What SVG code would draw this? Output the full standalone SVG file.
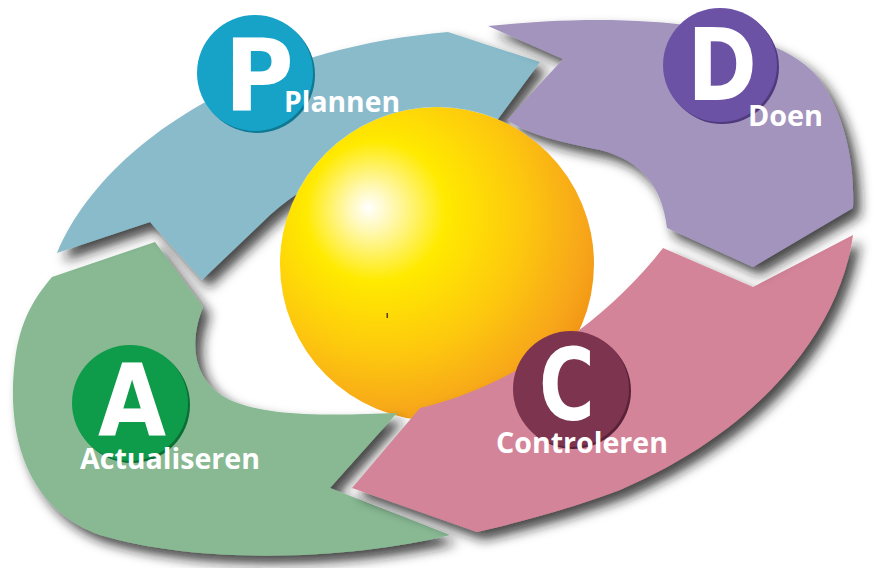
<svg xmlns="http://www.w3.org/2000/svg" width="875" height="568" viewBox="0 0 875 568">
<style>
.band{filter:url(#sh);}
.lbl{font-family:"Open Sans","Liberation Sans",sans-serif;font-weight:bold;font-size:28px;fill:#ffffff;}
.big{font-family:"DejaVu Sans","Liberation Sans",sans-serif;font-weight:bold;font-size:100px;fill:#ffffff;text-anchor:middle;}
</style>
<defs>
<filter id="sh" x="-20%" y="-20%" width="140%" height="140%">
<feDropShadow dx="7" dy="8" stdDeviation="6" flood-color="#1e1e1e" flood-opacity="0.8"/>
</filter>
<filter id="csh" x="-20%" y="-20%" width="140%" height="140%">
<feDropShadow dx="2" dy="2" stdDeviation="1.2" flood-color="#000" flood-opacity="0.45"/>
</filter>
<mask id="noSphere" maskUnits="userSpaceOnUse" x="0" y="0" width="875" height="568">
<rect x="0" y="0" width="875" height="568" fill="#fff"/>
<circle cx="437" cy="264" r="157" fill="#000"/>
</mask>
<radialGradient id="sun" cx="0.36" cy="0.36" r="0.74" fx="0.28" fy="0.32">
<stop offset="0" stop-color="#ffffff"/>
<stop offset="0.1" stop-color="#fff8b0"/>
<stop offset="0.3" stop-color="#ffea00"/>
<stop offset="0.6" stop-color="#fdc80e"/>
<stop offset="0.85" stop-color="#f7a51a"/>
<stop offset="1" stop-color="#f08c10"/>
</radialGradient>
</defs>
<rect x="0" y="0" width="875" height="568" fill="#ffffff"/>

<g id="sphere">
<circle cx="437" cy="264" r="157" fill="url(#sun)"/>
<rect x="386.5" y="313" width="1.5" height="5" fill="#5a3a10"/>
</g>

<g id="connectors"/>

<g id="node-act">
<path class="band" fill="#88b993" d="M52,277 L155,242 L203,307 C190,340 190,380 230,400 C270,418 340,415 397,413 L330,488 L450,535 C350,560 200,565 100,535 C30,510 5,440 15,360 C20,320 35,297 52,277 Z"/>
<circle cx="132" cy="405" r="58" fill="#0b6e35"/>
<circle cx="130" cy="403" r="58" fill="#0e9b4a"/>
<text class="big" transform="translate(132,435) scale(0.88,1)" x="0" y="0">A</text>
<text class="lbl" x="80" y="469" textLength="180" lengthAdjust="spacingAndGlyphs">Actualiseren</text>
</g>

<g id="node-check">
<path class="band" fill="#d48499" d="M663,248 L753,287 L853,235 C840,330 760,430 620,490 C580,505 530,520 477,532 L352,488 L420,408 C500,390 600,330 663,248 Z"/>
<circle cx="573" cy="391" r="58" fill="#5a2238"/>
<circle cx="571" cy="389" r="58" fill="#7d344f"/>
<text class="big" transform="translate(567,420) scale(0.76,1)" x="0" y="0">C</text>
<text class="lbl" x="496" y="453" textLength="172" lengthAdjust="spacingAndGlyphs">Controleren</text>
</g>

<g id="node-plan">
<path class="band" fill="#89bbcb" mask="url(#noSphere)" d="M57,253 C100,150 240,50 448,32 L540,62 L490,130 C400,140 320,170 270,215 L202,280 L150,222 Z"/>
<circle cx="257" cy="75" r="58" fill="#0f7893"/>
<circle cx="255" cy="73" r="58" fill="#17a3c8"/>
<text class="big" transform="translate(259,110) scale(0.95,1)" x="0" y="0">P</text>
<text class="lbl" x="284" y="112" textLength="116" lengthAdjust="spacingAndGlyphs">Plannen</text>
</g>

<g id="node-do">
<path class="band" fill="#a394be" mask="url(#noSphere)" d="M488,26 C640,10 780,25 820,80 C845,115 855,165 853,208 L753,267 L667,228 C662,185 640,160 600,150 C560,142 530,135 507,120 L563,59 Z"/>
<circle cx="722" cy="67" r="57" fill="#4e3a7c"/>
<circle cx="720" cy="65" r="57" fill="#6c52a5"/>
<text class="big" transform="translate(722,100) scale(0.84,1)" x="0" y="0">D</text>
<text class="lbl" x="748" y="126" textLength="75" lengthAdjust="spacingAndGlyphs">Doen</text>
</g>
</svg>
